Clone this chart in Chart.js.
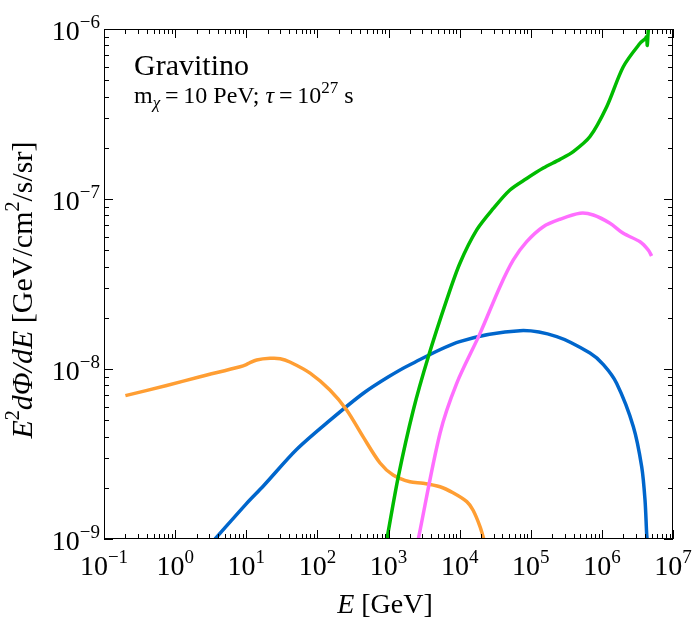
<!DOCTYPE html>
<html>
<head>
<meta charset="utf-8">
<script src="https://cdn.jsdelivr.net/npm/chart.js@4.4.1/dist/chart.umd.min.js"></script>
<style>
  html, body { margin: 0; padding: 0; background: #fff; }
  #wrap { width: 695px; height: 625px; }
</style>
</head>
<body>
<div id="wrap"><canvas id="grafico" width="695" height="625"></canvas></div>
<script>
// datos (E en GeV, flujo E^2 dPhi/dE)
const orangeE = [0.2, 0.76, 2.24, 8.2, 10, 11.3, 14, 21.6, 30, 41, 79, 150, 258, 438, 760, 1160, 2000, 3050, 5300, 8070, 12600, 15400, 19400, 22000];
const orangeFlux = [6.97e-9, 8.0e-9, 9.0e-9, 1.03e-8, 1.06e-8, 1.09e-8, 1.13e-8, 1.155e-8, 1.15e-8, 1.10e-8, 9.46e-9, 7.52e-9, 5.74e-9, 4.0e-9, 2.8e-9, 2.38e-9, 2.17e-9, 2.13e-9, 2.03e-9, 1.87e-9, 1.66e-9, 1.48e-9, 1.18e-9, 0.99e-9];

const blueE = [3.64, 10, 17.4, 51, 151, 443, 1000, 2000, 10000, 70600, 232000, 680000, 1.05e6, 1.61e6, 2.77e6, 3.63e6, 4.04e6, 4.26e6, 4.32e6];
const blueFlux = [1e-9, 1.61e-9, 2.05e-9, 3.36e-9, 5.0e-9, 7.2e-9, 9.0e-9, 1.06e-8, 1.45e-8, 1.68e-8, 1.55e-8, 1.24e-8, 1.06e-8, 8.24e-9, 4.58e-9, 2.66e-9, 1.7e-9, 1.08e-9, 1e-9];

const greenE = [950, 1374, 2234, 3630, 6580, 10100, 17400, 29800, 51000, 87700, 150000, 258000, 396000, 681000, 1.17e6, 2.0e6, 3.44e6, 4.1e6, 4.25e6, 4.35e6, 4.45e6, 4.55e6];
const greenFlux = [1e-9, 2.33e-9, 5.74e-9, 1.18e-8, 2.55e-8, 4.19e-8, 6.58e-8, 8.8e-8, 1.13e-7, 1.32e-7, 1.52e-7, 1.71e-7, 1.90e-7, 2.33e-7, 3.49e-7, 6.0e-7, 8.24e-7, 8.8e-7, 9.0e-7, 8.0e-7, 9.3e-7, 1.05e-6];

const magentaE = [2625, 5300, 9100, 19370, 36900, 56900, 87700, 150000, 258000, 492000, 757000, 1.3e6, 2.0e6, 3.44e6, 4.5e6, 5.0e6];
const magentaFlux = [1e-9, 4.19e-9, 8.24e-9, 1.62e-8, 3.05e-8, 4.38e-8, 5.61e-8, 6.87e-8, 7.6e-8, 8.24e-8, 8.05e-8, 7.2e-8, 6.28e-8, 5.6e-8, 5.0e-8, 4.62e-8];

const xDecades = [-1, 0, 1, 2, 3, 4, 5, 6, 7];
const yDecades = [-9, -8, -7, -6];

const SERIF = '"Liberation Serif", "DejaVu Serif", serif';

function puntos(xs, ys) {
    return xs.map((x, i) => ({ x: x, y: ys[i] }));
}

function serie(xs, ys, color) {
    return {
        data: puntos(xs, ys),
        borderColor: color,
        borderWidth: 3.5,
        pointRadius: 0,
        tension: 0.3,
        fill: false
    };
}

// texto con super/subindices: partes = [texto, tamaño, cursiva, dy]
function textoRico(ctx, partes, x, y, align) {
    let total = 0;
    partes.forEach(p => {
        ctx.font = (p[2] ? 'italic ' : '') + p[1] + 'px ' + SERIF;
        total += ctx.measureText(p[0]).width;
    });
    let cx = x;
    if (align === 'center') cx = x - total / 2;
    if (align === 'right') cx = x - total;
    ctx.textAlign = 'left';
    ctx.textBaseline = 'alphabetic';
    partes.forEach(p => {
        ctx.font = (p[2] ? 'italic ' : '') + p[1] + 'px ' + SERIF;
        ctx.fillText(p[0], cx, y + (p[3] || 0));
        cx += ctx.measureText(p[0]).width;
    });
}

const ejesPlugin = {
    id: 'ejesPlugin',
    afterDraw(chart) {
        const ctx = chart.ctx;
        const a = chart.chartArea;
        const xs = chart.scales.x;
        const ys = chart.scales.y;
        ctx.save();
        ctx.fillStyle = '#000';
        ctx.strokeStyle = '#000';
        ctx.lineWidth = 1;

        // marco
        ctx.strokeRect(a.left + 0.5, a.top + 0.5, a.right - a.left - 1, a.bottom - a.top - 1);

        // ticks hacia dentro en los cuatro lados
        ctx.beginPath();
        xDecades.forEach(d => {
            for (let m = 1; m <= 9; m++) {
                const v = m * Math.pow(10, d);
                if (v > 1e7 * 1.0001) continue;
                const px = Math.round(xs.getPixelForValue(v)) + 0.5;
                const len = m === 1 ? 9 : 5;
                ctx.moveTo(px, a.bottom); ctx.lineTo(px, a.bottom - len);
                ctx.moveTo(px, a.top); ctx.lineTo(px, a.top + len);
            }
        });
        yDecades.forEach(d => {
            for (let m = 1; m <= 9; m++) {
                const v = m * Math.pow(10, d);
                if (v > 1e-6 * 1.0001) continue;
                const py = Math.round(ys.getPixelForValue(v)) + 0.5;
                const len = m === 1 ? 9 : 5;
                ctx.moveTo(a.left, py); ctx.lineTo(a.left + len, py);
                ctx.moveTo(a.right, py); ctx.lineTo(a.right - len, py);
            }
        });
        ctx.stroke();

        // etiquetas de los ticks
        xDecades.forEach(d => {
            const px = xs.getPixelForValue(Math.pow(10, d));
            const sup = (d < 0 ? '\u2212' : '') + Math.abs(d);
            textoRico(ctx, [['10', 28, false, 0], [sup, 19, false, -12]], px, a.bottom + 36, 'center');
        });
        yDecades.forEach(d => {
            const py = ys.getPixelForValue(Math.pow(10, d));
            textoRico(ctx, [['10', 28, false, 0], ['\u2212' + Math.abs(d), 19, false, -12]], a.left - 4, py + 11, 'right');
        });

        // titulos de los ejes
        textoRico(ctx, [['E', 28, true, 0], [' [GeV]', 28, false, 0]], 385, 613, 'center');
        ctx.save();
        ctx.translate(32, 290);
        ctx.rotate(-Math.PI / 2);
        textoRico(ctx, [
            ['E', 30, true, 0], ['2', 20, false, -13], ['d\u03A6/dE', 30, true, 0],
            [' [GeV/cm', 30, false, 0], ['2', 20, false, -13], ['/s/sr]', 30, false, 0]
        ], 0, 0, 'center');
        ctx.restore();

        // anotaciones
        textoRico(ctx, [['Gravitino', 30, false, 0]], 134, 75, 'left');
        textoRico(ctx, [
            ['m', 24, false, 0], ['\u03C7', 17, true, 5], ['\u2009=\u200910 PeV; ', 24, false, 0],
            ['\u03C4', 24, true, 0], ['\u2009=\u200910', 24, false, 0], ['27', 17, false, -10], [' s', 24, false, 0]
        ], 134, 103, 'left');

        ctx.restore();
    }
};

let grafico = new Chart(document.getElementById('grafico').getContext('2d'), {
    type: 'line',
    data: {
        // el primero se dibuja encima
        datasets: [
            serie(magentaE, magentaFlux, '#FF6EFF'),
            serie(greenE, greenFlux, '#00BB00'),
            serie(orangeE, orangeFlux, '#FF9E33'),
            serie(blueE, blueFlux, '#0066CC')
        ]
    },
    options: {
        responsive: false,
        animation: false,
        layout: {
            padding: { left: 104, right: 22, top: 29, bottom: 86 }
        },
        plugins: {
            legend: { display: false },
            tooltip: { enabled: false }
        },
        scales: {
            x: {
                type: 'logarithmic',
                display: false,
                min: 0.1,
                max: 1e7
            },
            y: {
                type: 'logarithmic',
                display: false,
                min: 1e-9,
                max: 1e-6
            }
        }
    },
    plugins: [ejesPlugin]
});
</script>
</body>
</html>
